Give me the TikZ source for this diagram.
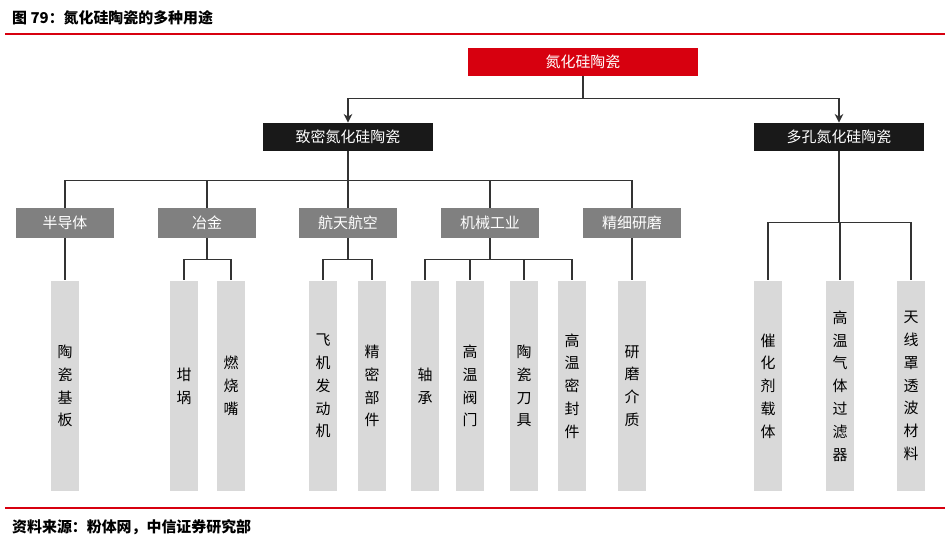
\documentclass[tikz,border=0pt]{standalone}
\usepackage{fontspec}
\setmainfont{Noto Sans CJK SC}
\usetikzlibrary{arrows.meta,positioning}
\definecolor{zxred}{HTML}{D7000F}
\tikzset{root node/.style={rectangle, fill=zxred, text=white, minimum width=4.6cm, minimum height=0.56cm, font=\fontsize{8.5}{10}\selectfont}}
\tikzset{dense node/.style={rectangle, fill=black!90, text=white, minimum width=3.4cm, minimum height=0.56cm, font=\fontsize{8.5}{10}\selectfont}}
\tikzset{field node/.style={rectangle, fill=black!50, text=white, minimum width=1.96cm, minimum height=0.6cm, font=\fontsize{8.5}{10}\selectfont}}
\tikzset{use node/.style={rectangle, fill=black!15, text=black, minimum width=0.56cm, minimum height=4.22cm, align=center, font=\fontsize{8.5}{13}\selectfont}}
\tikzset{tree edge/.style={draw=black!80, line width=0.6pt}}
\tikzset{arrow edge/.style={tree edge, -{Stealth[length=5pt,width=5pt]}}}

\begin{document}
\begin{tikzpicture}[x=0.02cm, y=-0.02cm]
  \useasboundingbox (0,0) rectangle (950,545);
  % title and frame lines
  \node [anchor=west, font=\fontsize{8.5}{10}\selectfont\bfseries] (title) at (6,18) {图 79：氮化硅陶瓷的多种用途};
  \draw [zxred, line width=1.2pt] (5,34) -- (945,34);
  \draw [zxred, line width=1.2pt] (5,508) -- (945,508);
  \node [anchor=west, font=\fontsize{8.5}{10}\selectfont\bfseries] (source) at (6,527) {资料来源：粉体网，中信证券研究部};

  % tree
  \node [root node]  (root)  at (583,62)  {氮化硅陶瓷};
  \node [dense node] (dense) at (348,137) {致密氮化硅陶瓷};
  \node [dense node] (pore)  at (839,137) {多孔氮化硅陶瓷};

  \node [field node] (semi)  at ( 65,223) {半导体};
  \node [field node] (metal) at (207,223) {冶金};
  \node [field node] (aero)  at (348,223) {航天航空};
  \node [field node] (mech)  at (490,223) {机械工业};
  \node [field node] (grind) at (632,223) {精细研磨};

  \node [use node] (u1)  at ( 65,386) {陶\\瓷\\基\\板};
  \node [use node] (u2)  at (184,386) {坩\\埚};
  \node [use node] (u3)  at (231,386) {燃\\烧\\嘴};
  \node [use node] (u4)  at (323,386) {飞\\机\\发\\动\\机};
  \node [use node] (u5)  at (372,386) {精\\密\\部\\件};
  \node [use node] (u6)  at (425,386) {轴\\承};
  \node [use node] (u7)  at (470,386) {高\\温\\阀\\门};
  \node [use node] (u8)  at (524,386) {陶\\瓷\\刀\\具};
  \node [use node] (u9)  at (572,386) {高\\温\\密\\封\\件};
  \node [use node] (u10) at (632,386) {研\\磨\\介\\质};
  \node [use node] (u11) at (768,386) {催\\化\\剂\\载\\体};
  \node [use node] (u12) at (840,386) {高\\温\\气\\体\\过\\滤\\器};
  \node [use node] (u13) at (911,386) {天\\线\\罩\\透\\波\\材\\料};

  \draw [tree edge]  (root.south) -- ++(0,22) coordinate (rj);
  \draw [arrow edge] (rj) -| (dense.north);
  \draw [arrow edge] (rj) -| (pore.north);

  \draw [tree edge] (dense.south) -- ++(0,29) coordinate (dj);
  \foreach \f in {semi,metal,aero,mech,grind}
    \draw [tree edge] (dj) -| (\f.north);

  \draw [tree edge] (semi.south) -- (u1.north);
  \draw [tree edge] (grind.south) -- (u10.north);
  \draw [tree edge] (metal.south) -- ++(0,21) coordinate (mj);
  \foreach \u in {u2,u3} \draw [tree edge] (mj) -| (\u.north);
  \draw [tree edge] (aero.south) -- ++(0,21) coordinate (aj);
  \foreach \u in {u4,u5} \draw [tree edge] (aj) -| (\u.north);
  \draw [tree edge] (mech.south) -- ++(0,21) coordinate (kj);
  \foreach \u in {u6,u7,u8,u9} \draw [tree edge] (kj) -| (\u.north);
  \draw [tree edge] (pore.south) -- ++(0,71) coordinate (pj);
  \foreach \u in {u11,u12,u13} \draw [tree edge] (pj) -| (\u.north);
\end{tikzpicture}
\end{document}
